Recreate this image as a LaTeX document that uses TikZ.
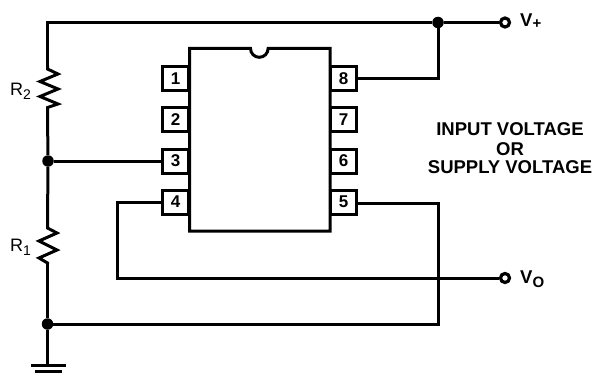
\documentclass[tikz,border=0pt]{standalone}
\usepackage{fontspec}
\setmainfont{Liberation Sans}
\tikzset{
  wire/.style={line width=3pt,line cap=butt,line join=miter},
  thinwire/.style={line width=3pt,line join=miter},
  pinbox/.style={draw,line width=3pt,fill=white,minimum width=26pt,minimum height=24pt,inner sep=0pt,font=\bfseries\fontsize{17}{17}\selectfont},
  junction/.style={circle,fill=black,inner sep=0pt,minimum size=11.5pt},
  terminal/.style={circle,draw,line width=3.2pt,fill=white,inner sep=0pt,minimum size=9pt},
  lab/.style={inner sep=0pt,font=\bfseries\fontsize{18.5}{18.5}\selectfont},
  rlab/.style={inner sep=0pt,font=\fontsize{18}{18}\selectfont}
}
\begin{document}
\begin{tikzpicture}[x=1pt,y=-1pt]
\useasboundingbox (0,0) rectangle (594,377);
% junctions and terminals
\node[junction] (jtop) at (438,22.5) {};
\node[junction] (jmid) at (48,161) {};
\node[junction] (jbot) at (47.5,324) {};
\node[terminal] (vp) at (505,22.5) {};
\node[terminal] (vo) at (505,278) {};
% package
\draw[wire] (189.5,48.5) -- (250.5,48.5) arc[start angle=180,end angle=0,radius=8.8] -- (330,48.5) -- (330,231) -- (189.5,231) -- cycle;
% pins
\node[pinbox] (p1) at (175.5,78.5) {1};
\node[pinbox] (p2) at (175.5,119.5) {2};
\node[pinbox] (p3) at (175.5,161) {3};
\node[pinbox] (p4) at (175.5,202) {4};
\node[pinbox] (p8) at (343.5,78.5) {8};
\node[pinbox] (p7) at (343.5,119.5) {7};
\node[pinbox] (p6) at (343.5,161) {6};
\node[pinbox] (p5) at (343.5,202) {5};
% corner coordinates
\coordinate (tl) at (47.5,22.5);
\coordinate (r2a) at (47.5,66);
\coordinate (r2b) at (47.5,112);
\coordinate (r1a) at (47.5,227);
\coordinate (r1b) at (47.5,264);
\coordinate (gnd) at (47.5,365);
\coordinate (gl) at (31,365);
\coordinate (gr) at (66,365);
\coordinate (g2l) at (35,371.5);
\coordinate (g2r) at (62,371.5);
% wires
\draw[wire] (vp) -- (jtop) -- (tl) -- (r2a);
\draw[wire] (r2a) -- (47.5,69) -- (58,74) -- (40,81.5) -- (58,89) -- (40,96.5) -- (58,104) -- (47.5,107.5) -- (r2b);
\draw[wire] (r2b) -- (jmid) -- (r1a);
\draw[wire] (r1a) -- (47.5,228) -- (57,233) -- (39,241) -- (57,250) -- (39,258) -- (47.5,263) -- (r1b);
\draw[wire] (r1b) -- (jbot) -- (gnd);
\draw[wire] (gl) -- (gr);
\draw[wire] (g2l) -- (g2r);
\draw[thinwire] (jmid) -- (p3);
\draw[wire] (jtop) |- (p8);
\draw[wire] (jbot) -| (438,203) -- (p5.east |- 0,203);
\draw[thinwire] (p4.west |- 0,202.5) -- (117,202.5) |- (vo);
% labels
\node[rlab,anchor=base west] (r2) at (10,96) {R\raisebox{-4pt}{\fontsize{14}{14}\selectfont 2}};
\node[rlab,anchor=base west] (r1) at (10,251) {R\raisebox{-4pt}{\fontsize{14}{14}\selectfont 1}};
\node[lab,anchor=base west] (vpl) at (520,26.5) {V\raisebox{-2pt}{\fontsize{15}{15}\selectfont +}};
\node[lab,anchor=base west] (vol) at (520,283.5) {V\raisebox{-4pt}{\fontsize{15}{15}\selectfont O}};
\node[lab,anchor=base] (t1) at (510,135.5) {INPUT VOLTAGE};
\node[lab,anchor=base] (t2) at (510,155) {OR};
\node[lab,anchor=base] (t3) at (510,173) {SUPPLY VOLTAGE};
\end{tikzpicture}
\end{document}
